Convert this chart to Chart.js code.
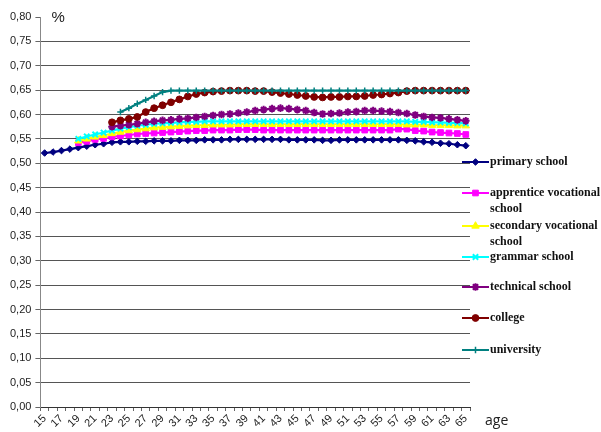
<!DOCTYPE html>
<html>
<head>
<meta charset="utf-8">
<title>Share by age and school type</title>
<script src="https://cdn.jsdelivr.net/npm/chart.js@4/dist/chart.umd.min.js"></script>
<style>
  html, body { margin: 0; padding: 0; background: #ffffff; }
  #wrap { position: relative; width: 601px; height: 432px; }
  canvas { display: block; }
</style>
</head>
<body>
<div id="wrap"><canvas id="chart" width="601" height="432"></canvas></div>
<script>
// Ages 15..65, one category per year
const ages = [];
for (let a = 15; a <= 65; a++) ages.push(String(a));

// Y axis tick values (0,00 .. 0,80 in steps of 0,05)
const yTicks = [0.00, 0.05, 0.10, 0.15, 0.20, 0.25, 0.30, 0.35, 0.40,
                0.45, 0.50, 0.55, 0.60, 0.65, 0.70, 0.75, 0.80];

const seriesNames = [
  'primary school',
  'apprentice vocational school',
  'secondary vocational school',
  'grammar school',
  'technical school',
  'college',
  'university'
];

// ages 15..65
const primarySchool = [
  0.521, 0.523, 0.526, 0.529, 0.532, 0.535, 0.538, 0.540, 0.543, 0.544,
  0.544, 0.545, 0.545, 0.546, 0.546, 0.546, 0.547, 0.547, 0.547, 0.548,
  0.548, 0.548, 0.549, 0.549, 0.549, 0.549, 0.549, 0.549, 0.549, 0.548,
  0.548, 0.548, 0.548, 0.547, 0.547, 0.548, 0.548, 0.548, 0.548, 0.548,
  0.548, 0.548, 0.548, 0.547, 0.546, 0.544, 0.543, 0.541, 0.540, 0.538,
  0.536
];

// ages 19..65 (earlier ages empty)
const apprenticeVocational = [
  null, null, null, null,
  0.542, 0.545, 0.549, 0.551, 0.554, 0.556, 0.558, 0.560, 0.561, 0.562,
  0.563, 0.564, 0.565, 0.566, 0.567, 0.567, 0.568, 0.568, 0.568, 0.569,
  0.569, 0.569, 0.568, 0.568, 0.568, 0.568, 0.568, 0.568, 0.568, 0.568,
  0.568, 0.568, 0.568, 0.568, 0.568, 0.568, 0.568, 0.568, 0.570, 0.570,
  0.567, 0.566, 0.564, 0.563, 0.562, 0.561, 0.559
];

const secondaryVocational = [
  null, null, null, null,
  0.546, 0.550, 0.554, 0.557, 0.561, 0.564, 0.567, 0.569, 0.571, 0.573,
  0.574, 0.575, 0.576, 0.577, 0.578, 0.578, 0.579, 0.579, 0.579, 0.580,
  0.580, 0.580, 0.580, 0.580, 0.580, 0.580, 0.580, 0.580, 0.580, 0.580,
  0.580, 0.580, 0.580, 0.580, 0.580, 0.580, 0.580, 0.580, 0.580, 0.579,
  0.579, 0.579, 0.578, 0.578, 0.578, 0.577, 0.577
];

const grammarSchool = [
  null, null, null, null,
  0.550, 0.555, 0.559, 0.563, 0.567, 0.571, 0.574, 0.577, 0.579, 0.581,
  0.582, 0.583, 0.584, 0.585, 0.585, 0.586, 0.586, 0.586, 0.586, 0.586,
  0.586, 0.586, 0.586, 0.586, 0.586, 0.586, 0.586, 0.586, 0.586, 0.586,
  0.586, 0.586, 0.586, 0.586, 0.586, 0.586, 0.586, 0.586, 0.586, 0.586,
  0.585, 0.585, 0.584, 0.584, 0.583, 0.583, 0.582
];

// ages 23..65
const technicalSchool = [
  null, null, null, null, null, null, null, null,
  0.575, 0.577, 0.579, 0.581, 0.584, 0.586, 0.588, 0.589, 0.591, 0.592,
  0.594, 0.596, 0.598, 0.600, 0.601, 0.603, 0.605, 0.608, 0.610, 0.612,
  0.613, 0.612, 0.610, 0.608, 0.604, 0.601, 0.602, 0.603, 0.605, 0.606,
  0.608, 0.608, 0.607, 0.606, 0.604, 0.602, 0.599, 0.596, 0.594, 0.593,
  0.591, 0.589, 0.587
];

const college = [
  null, null, null, null, null, null, null, null,
  0.584, 0.588, 0.591, 0.595, 0.605, 0.613, 0.619, 0.625, 0.631, 0.637,
  0.642, 0.645, 0.647, 0.648, 0.649, 0.649, 0.649, 0.648, 0.648, 0.646,
  0.644, 0.642, 0.640, 0.638, 0.636, 0.635, 0.636, 0.636, 0.637, 0.637,
  0.638, 0.640, 0.641, 0.643, 0.645, 0.648, 0.649, 0.649, 0.649, 0.649,
  0.649, 0.649, 0.649
];

// ages 24..65
const university = [
  null, null, null, null, null, null, null, null, null,
  0.605, 0.613, 0.622, 0.630, 0.638, 0.646, 0.649, 0.649, 0.649,
  0.649, 0.649, 0.649, 0.649, 0.649, 0.649, 0.649, 0.649, 0.649, 0.649,
  0.649, 0.649, 0.649, 0.649, 0.649, 0.649, 0.649, 0.649, 0.649, 0.649,
  0.649, 0.649, 0.649, 0.649, 0.649, 0.649, 0.649, 0.649, 0.649, 0.649,
  0.649, 0.649, 0.649
];

const seriesValues = [primarySchool, apprenticeVocational, secondaryVocational,
                      grammarSchool, technicalSchool, college, university];

// Line colour, marker shape, marker size, marker stroke for each series
const styles = [
  { color: '#000080', point: 'rectRot',  radius: 3.3, bw: 1 },
  { color: '#FF00FF', point: 'rect',     radius: 4.0, bw: 1 },
  { color: '#FFFF00', point: 'triangle', radius: 4.3, bw: 1 },
  { color: '#00FFFF', point: 'crossRot', radius: 3.8, bw: 2 },
  { color: '#800080', point: 'star',     radius: 3.8, bw: 2 },
  { color: '#800000', point: 'circle',   radius: 3.4, bw: 1 },
  { color: '#008080', point: 'cross',    radius: 3.2, bw: 1.5 }
];

const datasets = seriesValues.map((vals, i) => ({
  label: seriesNames[i],
  data: vals,
  borderColor: styles[i].color,
  backgroundColor: styles[i].color,
  borderWidth: 2.2,
  pointStyle: styles[i].point,
  pointRadius: styles[i].radius,
  pointBorderWidth: styles[i].bw,
  pointBackgroundColor: styles[i].color,
  pointBorderColor: styles[i].color,
  tension: 0,
  spanGaps: false,
  // later series are painted over earlier ones
  order: seriesValues.length - 1 - i
}));

const fmt = v => v.toFixed(2).replace('.', ',');

// Draws a marker with the same shape as the series uses in the plot
function drawMarker(ctx, st, x, y) {
  const opts = {
    pointStyle: st.point, radius: st.radius, rotation: 0,
    borderWidth: st.bw, backgroundColor: st.color, borderColor: st.color
  };
  ctx.save();
  ctx.fillStyle = st.color;
  ctx.strokeStyle = st.color;
  ctx.lineWidth = st.bw;
  Chart.helpers.drawPoint(ctx, opts, x, y);
  ctx.restore();
}

// Legend on the right, with wrapped labels, plus the "%" and "age" captions
const sideLegend = {
  id: 'sideLegend',
  afterDraw(chart) {
    const ctx = chart.ctx;
    const area = chart.chartArea;
    ctx.save();

    // axis captions
    ctx.fillStyle = '#222';
    ctx.font = '15px "Liberation Sans", Arial, sans-serif';
    ctx.textAlign = 'left';
    ctx.textBaseline = 'middle';
    ctx.fillText('%', area.left + 11, area.top + 1);
    ctx.font = '14px "Open Sans", "Noto Sans", sans-serif';
    ctx.fillText('age', 485, 421);

    // legend entries
    const lineX0 = 462, lineX1 = 489, textX = 490, maxW = 111;
    const rowY = [162, 193, 226, 257, 287, 318, 350];
    ctx.font = 'bold 12px "Liberation Serif", "Times New Roman", serif';
    ctx.textBaseline = 'middle';
    seriesNames.forEach((name, i) => {
      const st = styles[i];
      const y = rowY[i];
      ctx.strokeStyle = st.color;
      ctx.lineWidth = 2;
      ctx.beginPath();
      ctx.moveTo(lineX0, y);
      ctx.lineTo(lineX1, y);
      ctx.stroke();
      drawMarker(ctx, st, (lineX0 + lineX1) / 2, y);

      // wrap the label to the available width
      const words = name.split(' ');
      const lines = [];
      let cur = '';
      words.forEach(w => {
        const test = cur ? cur + ' ' + w : w;
        if (ctx.measureText(test).width > maxW && cur) {
          lines.push(cur);
          cur = w;
        } else {
          cur = test;
        }
      });
      lines.push(cur);
      ctx.fillStyle = '#111';
      lines.forEach((ln, k) => ctx.fillText(ln, textX, y + k * 16));
    });
    ctx.restore();
  }
};

new Chart(document.getElementById('chart'), {
  type: 'line',
  data: { labels: ages, datasets },
  options: {
    responsive: false,
    animation: false,
    devicePixelRatio: 1,
    layout: { padding: { left: 6, right: 131, top: 17, bottom: 1 } },
    plugins: {
      legend: { display: false },
      tooltip: { enabled: false }
    },
    scales: {
      x: {
        type: 'category',
        offset: true,
        grid: {
          offset: true,
          drawOnChartArea: false,
          drawTicks: true,
          tickLength: 4,
          color: '#666'
        },
        border: { color: '#333', width: 1 },
        ticks: {
          autoSkip: false,
          minRotation: 45,
          maxRotation: 45,
          padding: 1,
          color: '#222',
          font: { family: '"Liberation Sans", Arial, sans-serif', size: 11 },
          callback: (v, i) => (i % 2 === 0 ? ages[i] : '')
        }
      },
      y: {
        min: 0,
        max: 0.8,
        afterBuildTicks: axis => { axis.ticks = yTicks.map(v => ({ value: v })); },
        grid: {
          color: c => (Math.abs(c.tick.value - 0.8) < 1e-6 ? 'rgba(0,0,0,0)' : '#555'),
          tickColor: '#666',
          tickLength: 5,
          lineWidth: 1
        },
        border: { color: '#888', width: 1 },
        ticks: {
          padding: 4,
          color: '#222',
          font: { family: '"Liberation Sans", Arial, sans-serif', size: 11 },
          callback: v => fmt(v)
        }
      }
    }
  },
  plugins: [sideLegend]
});
</script>
</body>
</html>
